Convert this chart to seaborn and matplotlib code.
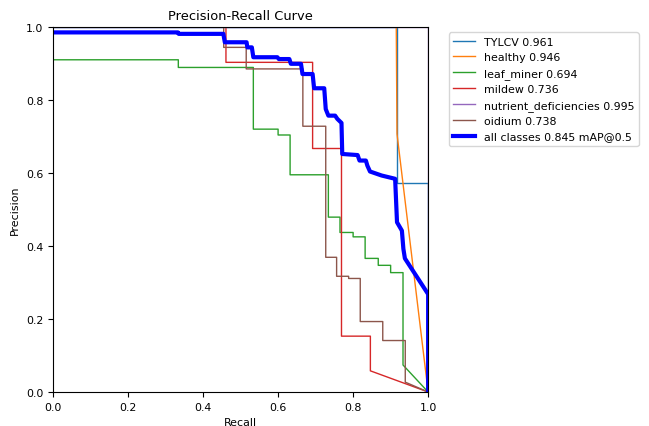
import pandas as pd
import seaborn as sns
import matplotlib
matplotlib.use("Agg")
import matplotlib.pyplot as plt

plt.rcParams['font.family'] = ['DejaVu Sans']
plt.rcParams['font.size'] = 7.9

# per-class PR curves, corner points
tylcv_r = [0.0, 0.917, 0.917, 0.917, 1.0, 1.0]
tylcv_p = [1.0, 1.0, 0.707, 0.573, 0.573, 0.0]

healthy_r = [0.0, 0.915, 0.917, 1.0]
healthy_p = [1.0, 1.0, 0.707, 0.0]

leaf_miner_r = [0.0, 0.334, 0.334, 0.534, 0.534, 0.6, 0.6, 0.632, 0.632, 0.734, 0.734,
                0.765, 0.765, 0.800, 0.800, 0.832, 0.832, 0.867, 0.867, 0.9, 0.9,
                0.933, 0.933, 1.0]
leaf_miner_p = [0.91, 0.91, 0.889, 0.889, 0.72, 0.72, 0.704, 0.704, 0.595, 0.595, 0.479,
                0.479, 0.437, 0.437, 0.425, 0.425, 0.366, 0.366, 0.347, 0.347, 0.327,
                0.327, 0.074, 0.0]

mildew_r = [0.0, 0.461, 0.461, 0.692, 0.692, 0.769, 0.769, 0.846, 0.846, 1.0]
mildew_p = [1.0, 1.0, 0.903, 0.903, 0.667, 0.667, 0.153, 0.153, 0.058, 0.0]

nutrient_r = [0.0, 1.0, 1.0]
nutrient_p = [1.0, 1.0, 0.0]

oidium_r = [0.0, 0.455, 0.455, 0.515, 0.515, 0.666, 0.666, 0.727, 0.727, 0.756, 0.756,
            0.788, 0.788, 0.819, 0.819, 0.879, 0.879, 0.939, 0.939, 1.0]
oidium_p = [1.0, 1.0, 0.944, 0.944, 0.885, 0.885, 0.728, 0.728, 0.369, 0.369, 0.317,
            0.317, 0.311, 0.311, 0.193, 0.193, 0.141, 0.141, 0.027, 0.0]

all_r = [0.0, 0.333, 0.335, 0.454, 0.458, 0.516, 0.518, 0.530, 0.534, 0.598, 0.602,
         0.630, 0.634, 0.661, 0.665, 0.692, 0.696, 0.723, 0.727, 0.734, 0.752, 0.758,
         0.769, 0.771, 0.812, 0.817, 0.834, 0.838, 0.845, 0.876, 0.912, 0.917, 0.930,
         0.934, 0.938, 1.0, 1.0]
all_p = [0.985, 0.985, 0.981, 0.981, 0.958, 0.958, 0.944, 0.944, 0.917, 0.917, 0.912,
         0.912, 0.899, 0.899, 0.871, 0.871, 0.832, 0.832, 0.775, 0.757, 0.757, 0.748,
         0.737, 0.652, 0.649, 0.634, 0.634, 0.620, 0.604, 0.593, 0.584, 0.465, 0.442,
         0.392, 0.366, 0.268, 0.0]

class_names = ["TYLCV", "healthy", "leaf_miner", "mildew", "nutrient_deficiencies", "oidium"]
class_ap = [0.961, 0.946, 0.694, 0.736, 0.995, 0.738]
map50 = 0.845

curves = [
    (tylcv_r, tylcv_p),
    (healthy_r, healthy_p),
    (leaf_miner_r, leaf_miner_p),
    (mildew_r, mildew_p),
    (nutrient_r, nutrient_p),
    (oidium_r, oidium_p),
]
palette = ['#1f77b4', '#ff7f0e', '#2ca02c', '#d62728', '#9467bd', '#8c564b']

fig = plt.figure(figsize=(6.49, 4.27), dpi=100)
ax = fig.add_axes([0.0817, 0.0796, 0.578, 0.855])

for (r, p), name, ap, col in zip(curves, class_names, class_ap, palette):
    df = pd.DataFrame({"recall": r, "precision": p})
    sns.lineplot(data=df, x="recall", y="precision", sort=False, estimator=None,
                 linewidth=1, color=col, label=f"{name} {ap:.3f}", ax=ax)

df_all = pd.DataFrame({"recall": all_r, "precision": all_p})
sns.lineplot(data=df_all, x="recall", y="precision", sort=False, estimator=None,
             linewidth=3, color="blue", label=f"all classes {map50:.3f} mAP@0.5", ax=ax)

ax.set_xlabel("Recall")
ax.set_ylabel("Precision")
ax.set_xlim(0, 1)
ax.set_ylim(0, 1)
ax.set_title("Precision-Recall Curve", fontsize=9.4)
ax.legend(bbox_to_anchor=(1.04, 1), loc="upper left")

fig.savefig("out.png", dpi=100)
